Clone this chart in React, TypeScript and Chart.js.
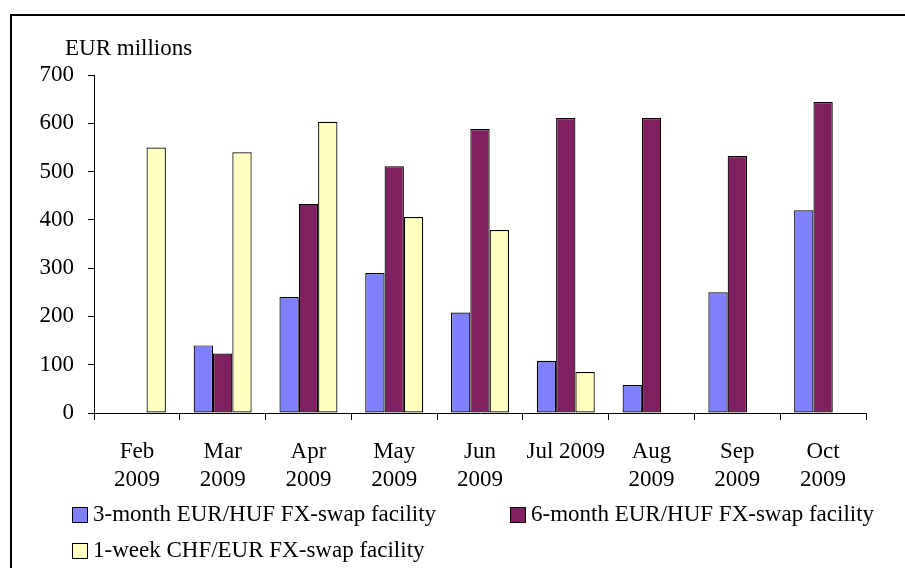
import React, { useEffect, useRef } from "react";
import { Chart, registerables } from "chart.js";

Chart.register(...registerables);

const categories: (string | string[])[] = [
  ["Feb", "2009"],
  ["Mar", "2009"],
  ["Apr", "2009"],
  ["May", "2009"],
  ["Jun", "2009"],
  ["Jul 2009"],
  ["Aug", "2009"],
  ["Sep", "2009"],
  ["Oct", "2009"],
];

const threeMonth: (number | null)[] = [null, 140, 240, 290, 208, 108, 58, 250, 420];
const sixMonth: (number | null)[] = [null, 123, 433, 511, 588, 611, 611, 532, 644];
const oneWeek: (number | null)[] = [550, 540, 603, 406, 379, 85, null, null, null];

const seriesLabels = [
  "3-month EUR/HUF FX-swap facility",
  "6-month EUR/HUF FX-swap facility",
  "1-week CHF/EUR FX-swap facility",
];
const seriesColors = ["#8080FF", "#802060", "#FFFFC0"];

const yTicks = { min: 0, max: 700, step: 100 };
const unitLabel = "EUR millions";

const FONT = "'Liberation Serif', 'Times New Roman', serif";

const framePlugin = {
  id: "frameAndExtras",
  beforeDraw(chart: any) {
    const ctx = chart.ctx;
    ctx.save();
    ctx.fillStyle = "#ffffff";
    ctx.fillRect(0, 0, chart.width, chart.height);
    ctx.strokeStyle = "#000000";
    ctx.lineWidth = 2;
    ctx.strokeRect(11, 15, chart.width + 20, chart.height + 20);
    ctx.restore();
  },
  afterDraw(chart: any) {
    const ctx = chart.ctx;
    ctx.save();
    // unit label
    ctx.fillStyle = "#000";
    ctx.font = `23px ${FONT}`;
    ctx.textBaseline = "middle";
    ctx.textAlign = "left";
    ctx.fillText(unitLabel, 65, 49);

    // legend
    ctx.font = `23px ${FONT}`;
    const items = chart.data.datasets.map((d: any) => ({
      label: d.label,
      color: d.backgroundColor,
    }));
    const positions = [
      { x: 72, y: 515 },
      { x: 510, y: 515 },
      { x: 72, y: 551 },
    ];
    items.forEach((it: any, i: number) => {
      const p = positions[i];
      ctx.fillStyle = it.color;
      ctx.fillRect(p.x, p.y - 8, 15, 15);
      ctx.strokeStyle = "#000";
      ctx.lineWidth = 1;
      ctx.strokeRect(p.x + 0.5, p.y - 7.5, 15, 15);
      ctx.fillStyle = "#000";
      ctx.textBaseline = "middle";
      ctx.fillText(it.label, p.x + 21, p.y);
    });
    ctx.restore();
  },
};

export default function App() {
  const canvasRef = useRef<HTMLCanvasElement | null>(null);

  useEffect(() => {
    document.body.style.margin = "0";
    const canvas = canvasRef.current;
    if (!canvas) return;
    const chart = new Chart(canvas, {
      type: "bar",
      data: {
        labels: categories,
        datasets: [
          {
            label: seriesLabels[0],
            data: threeMonth,
            backgroundColor: seriesColors[0],
            borderColor: "#000",
            borderWidth: 1.2,
            borderSkipped: false,
          },
          {
            label: seriesLabels[1],
            data: sixMonth,
            backgroundColor: seriesColors[1],
            borderColor: "#000",
            borderWidth: 1.2,
            borderSkipped: false,
          },
          {
            label: seriesLabels[2],
            data: oneWeek,
            backgroundColor: seriesColors[2],
            borderColor: "#000",
            borderWidth: 1.2,
            borderSkipped: false,
          },
        ] as any,
      },
      options: {
        animation: false,
        responsive: false,
        devicePixelRatio: 1,
        datasets: {
          bar: { categoryPercentage: 0.676, barPercentage: 1 },
        } as any,
        layout: { padding: { top: 75, right: 39, left: 0, bottom: 0 } },
        plugins: {
          legend: { display: false },
          tooltip: { enabled: false },
          title: { display: false },
        },
        scales: {
          x: {
            grid: {
              display: true,
              drawOnChartArea: false,
              drawTicks: true,
              tickLength: 7,
              color: "#000",
              offset: true,
            },
            border: { display: true, color: "#000", width: 1 },
            ticks: {
              color: "#000",
              padding: 18,
              maxRotation: 0,
              autoSkip: false,
              font: { family: FONT, size: 23, lineHeight: 1.22 },
            },
            afterFit(scale: any) {
              scale.height = 155;
            },
          },
          y: {
            min: yTicks.min,
            max: yTicks.max,
            grid: {
              display: true,
              drawOnChartArea: false,
              drawTicks: true,
              tickLength: 6,
              color: "#000",
            },
            border: { display: true, color: "#000", width: 1 },
            ticks: {
              stepSize: yTicks.step,
              color: "#000",
              padding: 14,
              font: { family: FONT, size: 23 },
            },
            afterFit(scale: any) {
              scale.width = 94;
            },
          },
        },
      },
      plugins: [framePlugin],
    });
    return () => chart.destroy();
  }, []);

  return (
    <div style={{ width: 905, height: 568, position: "relative", background: "#fff" }}>
      <canvas ref={canvasRef} width={905} height={568} />
    </div>
  );
}
